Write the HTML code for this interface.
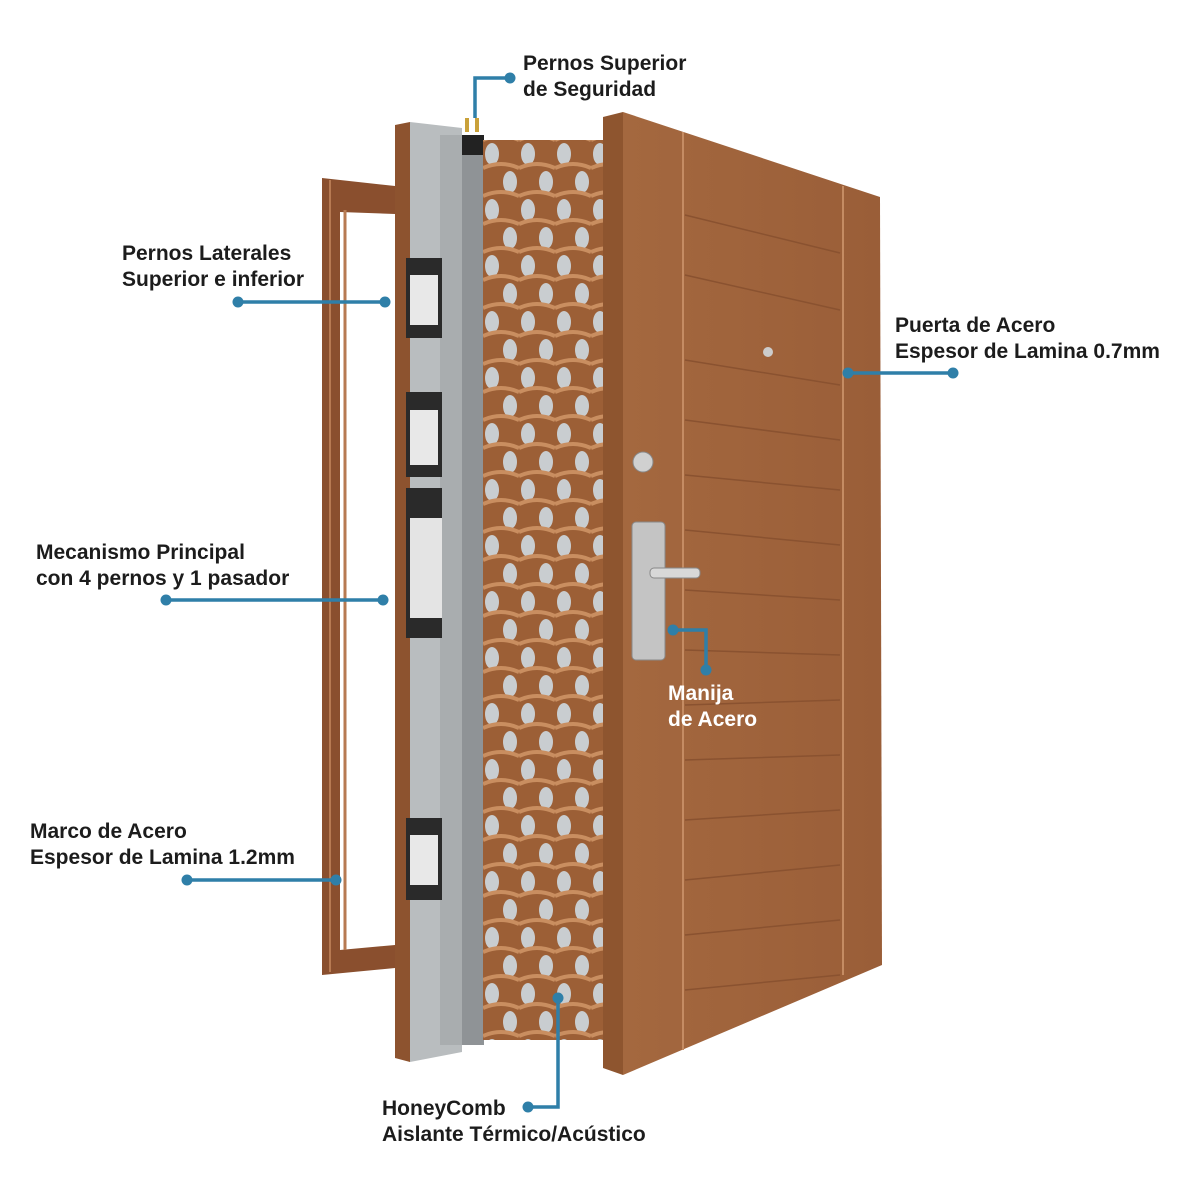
<!DOCTYPE html>
<html><head><meta charset="utf-8"><style>
html,body{margin:0;padding:0;background:#fff}
svg{display:block}
text{font-family:"Liberation Sans",sans-serif;font-size:21px;font-weight:bold;fill:#1c1c1c}
</style></head><body>
<svg width="1200" height="1200" viewBox="0 0 1200 1200" xmlns="http://www.w3.org/2000/svg">
<defs>
<pattern id="hc" x="483" y="140" width="36" height="56" patternUnits="userSpaceOnUse">
<rect width="36" height="56" fill="#9c5f36"/>
<ellipse cx="9" cy="14" rx="7" ry="11" fill="#c9cdd0"/>
<ellipse cx="27" cy="42" rx="7" ry="11" fill="#c9cdd0"/>
<path d="M0 28 Q18 20 36 28" stroke="#c98e60" stroke-width="4" fill="none"/>
<path d="M0 0 Q18 -8 36 0 M0 56 Q18 48 36 56" stroke="#c98e60" stroke-width="4" fill="none"/>
</pattern>
<linearGradient id="dg" x1="0" x2="1"><stop offset="0" stop-color="#a4683f"/><stop offset="1" stop-color="#9a5e38"/></linearGradient>
</defs>
<!-- frame -->
<polygon points="322,178 395,186 395,968 322,975" fill="#8a4f2e"/>
<polygon points="340,212 395,214 395,945 340,950" fill="#ffffff"/>
<rect x="362" y="214" width="33" height="731" fill="#fff"/>
<line x1="345" y1="210" x2="345" y2="950" stroke="#b77a52" stroke-width="3"/>
<line x1="330" y1="180" x2="330" y2="972" stroke="#b77a52" stroke-width="2"/>
<!-- door edge -->
<polygon points="395,125 410,122 410,1062 395,1058" fill="#8d532f"/>
<polygon points="410,122 462,128 462,1052 410,1062" fill="#b9bdbf"/>
<rect x="462" y="135" width="22" height="910" fill="#8f9396"/>
<rect x="440" y="135" width="22" height="910" fill="#a9adaf"/>
<!-- lock boxes -->
<rect x="406" y="258" width="36" height="80" fill="#2a2a2a"/><rect x="410" y="275" width="28" height="50" fill="#e8e8e8"/>
<rect x="406" y="392" width="36" height="85" fill="#2a2a2a"/><rect x="410" y="410" width="28" height="55" fill="#e8e8e8"/>
<rect x="406" y="488" width="36" height="150" fill="#2a2a2a"/><rect x="410" y="518" width="32" height="100" fill="#e4e4e4"/>
<rect x="406" y="818" width="36" height="82" fill="#2a2a2a"/><rect x="410" y="835" width="28" height="50" fill="#e8e8e8"/>
<rect x="462" y="135" width="22" height="20" fill="#222"/>
<rect x="465" y="118" width="4" height="14" fill="#c9a13a"/><rect x="475" y="118" width="4" height="14" fill="#c9a13a"/>
<!-- honeycomb -->
<rect x="483" y="140" width="120" height="900" fill="url(#hc)"/>
<!-- door -->
<polygon points="603,117 623,112 623,1075 603,1068" fill="#8e552f"/>
<polygon points="623,112 880,197 882,965 623,1075" fill="url(#dg)"/>
<line x1="683" y1="132" x2="683" y2="1050" stroke="#c58c63" stroke-width="2"/>
<line x1="843" y1="186" x2="843" y2="975" stroke="#c58c63" stroke-width="2"/>
<g stroke="#8a5230" stroke-width="1.5" fill="none">
<path d="M685 215 L840 253 M685 275 L840 310 M685 360 L840 385 M685 420 L840 440 M685 475 L840 490 M685 530 L840 545 M685 590 L840 600 M685 650 L840 655 M685 705 L840 700 M685 760 L840 755 M685 820 L840 810 M685 880 L840 865 M685 935 L840 920 M685 990 L840 975"/>
</g>
<circle cx="768" cy="352" r="5" fill="#ccc"/>
<circle cx="643" cy="462" r="10" fill="#d0d0d0" stroke="#888"/>
<rect x="632" y="522" width="33" height="138" rx="4" fill="#c4c4c4" stroke="#888"/>
<rect x="650" y="568" width="50" height="10" rx="4" fill="#d8d8d8" stroke="#888"/>
<!-- connectors -->
<g stroke="#2f7fa8" stroke-width="3.5" fill="none">
<polyline points="475,118 475,78 510,78"/>
<line x1="238" y1="302" x2="385" y2="302"/>
<line x1="848" y1="373" x2="953" y2="373"/>
<line x1="166" y1="600" x2="383" y2="600"/>
<polyline points="673,630 706,630 706,670"/>
<line x1="187" y1="880" x2="336" y2="880"/>
<polyline points="528,1107 558,1107 558,998"/>
</g>
<g fill="#2f7fa8">
<circle cx="510" cy="78" r="5.5"/><circle cx="238" cy="302" r="5.5"/><circle cx="385" cy="302" r="5.5"/>
<circle cx="848" cy="373" r="5.5"/><circle cx="953" cy="373" r="5.5"/>
<circle cx="166" cy="600" r="5.5"/><circle cx="383" cy="600" r="5.5"/>
<circle cx="673" cy="630" r="5.5"/><circle cx="706" cy="670" r="5.5"/>
<circle cx="187" cy="880" r="5.5"/><circle cx="336" cy="880" r="5.5"/>
<circle cx="528" cy="1107" r="5.5"/><circle cx="558" cy="998" r="5.5"/>
</g>
<text x="523" y="70">Pernos Superior</text><text x="523" y="96">de Seguridad</text>
<text x="122" y="260">Pernos Laterales</text><text x="122" y="286">Superior e inferior</text>
<text x="895" y="332">Puerta de Acero</text><text x="895" y="358">Espesor de Lamina 0.7mm</text>
<text x="36" y="559">Mecanismo Principal</text><text x="36" y="585">con 4 pernos y 1 pasador</text>
<text x="668" y="700" style="fill:#fff">Manija</text><text x="668" y="726" style="fill:#fff">de Acero</text>
<text x="30" y="838">Marco de Acero</text><text x="30" y="864">Espesor de Lamina 1.2mm</text>
<text x="382" y="1115">HoneyComb</text><text x="382" y="1141">Aislante Térmico/Acústico</text>
</svg>
</body></html>
